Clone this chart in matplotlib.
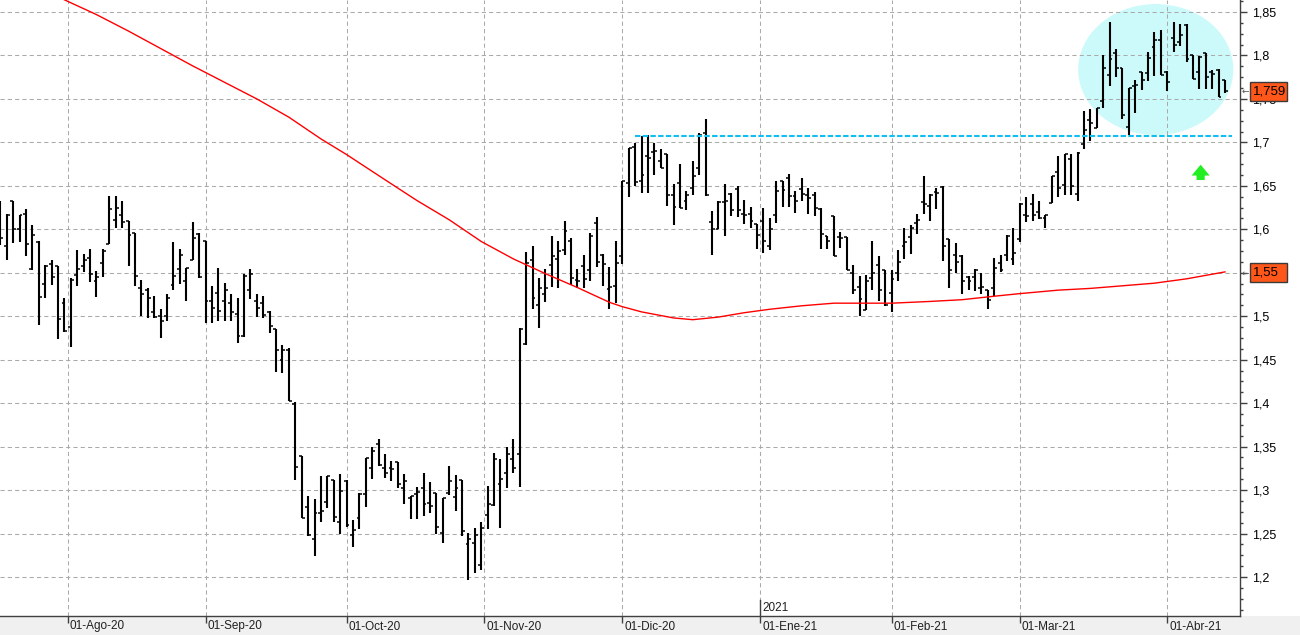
import numpy as np
import pandas as pd
import matplotlib
matplotlib.use('Agg')
import matplotlib.pyplot as plt
from matplotlib.patches import Ellipse, Rectangle
from matplotlib.ticker import MultipleLocator, FuncFormatter
import matplotlib.transforms as mtransforms

# barras diarias OHLC
aperturas = [1.620, 1.581, 1.633, 1.600, 1.618, 1.554, 1.585, 1.537, 1.560, 1.558,
             1.515, 1.488, 1.547, 1.558, 1.567, 1.541, 1.561, 1.583, 1.611, 1.616,
             1.609, 1.596, 1.533, 1.530, 1.505, 1.500, 1.500, 1.536, 1.554, 1.541,
             1.565, 1.595, 1.586, 1.517, 1.527, 1.517, 1.515, 1.502, 1.477, 1.530,
             1.517, 1.515, 1.505, 1.485, 1.450, 1.461, 1.399, 1.339, 1.280, 1.244,
             1.274, 1.286, 1.311, 1.263, 1.310, 1.248, 1.268, 1.295, 1.325, 1.353,
             1.325, 1.325, 1.332, 1.302, 1.291, 1.295, 1.302, 1.285, 1.297, 1.251,
             1.297, 1.292, 1.311, 1.238, 1.239, 1.214, 1.271, 1.283, 1.307, 1.320,
             1.336, 1.341, 1.468, 1.565, 1.513, 1.526, 1.559, 1.566, 1.576, 1.587,
             1.542, 1.558, 1.553, 1.607, 1.571, 1.531, 1.535, 1.569, 1.653, 1.695,
             1.656, 1.684, 1.689, 1.679, 1.687, 1.639, 1.653, 1.633, 1.647, 1.670,
             1.711, 1.608, 1.600, 1.631, 1.641, 1.646, 1.618, 1.618, 1.606, 1.609,
             1.581, 1.617, 1.655, 1.659, 1.638, 1.646, 1.640, 1.640, 1.623, 1.592,
             1.615, 1.591, 1.591, 1.550, 1.534, 1.507, 1.544, 1.559, 1.553, 1.527,
             1.550, 1.581, 1.591, 1.607, 1.631, 1.627, 1.643, 1.649, 1.589, 1.571,
             1.569, 1.545, 1.545, 1.532, 1.530, 1.532, 1.561, 1.571, 1.566, 1.589,
             1.617, 1.629, 1.620, 1.613, 1.630, 1.666, 1.651, 1.681, 1.641, 1.698,
             1.726, 1.717, 1.748, 1.778, 1.803, 1.785, 1.718, 1.765, 1.781, 1.780,
             1.810, 1.818, 1.781, 1.820, 1.815, 1.835, 1.801, 1.781, 1.803, 1.781,
             1.783, 1.772]
maximos = [1.633, 1.618, 1.633, 1.616, 1.623, 1.605, 1.586, 1.559, 1.565, 1.558,
           1.521, 1.544, 1.576, 1.572, 1.577, 1.552, 1.577, 1.638, 1.638, 1.633,
           1.610, 1.596, 1.542, 1.533, 1.523, 1.508, 1.526, 1.585, 1.577, 1.556,
           1.608, 1.596, 1.587, 1.535, 1.555, 1.538, 1.526, 1.521, 1.548, 1.554,
           1.525, 1.523, 1.506, 1.485, 1.467, 1.463, 1.401, 1.339, 1.293, 1.290,
           1.316, 1.316, 1.312, 1.319, 1.312, 1.266, 1.297, 1.337, 1.349, 1.359,
           1.342, 1.333, 1.332, 1.318, 1.293, 1.303, 1.320, 1.309, 1.297, 1.291,
           1.328, 1.317, 1.312, 1.251, 1.256, 1.263, 1.305, 1.343, 1.336, 1.350,
           1.359, 1.486, 1.574, 1.581, 1.544, 1.554, 1.592, 1.587, 1.610, 1.590,
           1.554, 1.571, 1.596, 1.614, 1.572, 1.557, 1.586, 1.656, 1.693, 1.699,
           1.707, 1.709, 1.699, 1.692, 1.687, 1.652, 1.675, 1.644, 1.679, 1.711,
           1.727, 1.621, 1.632, 1.652, 1.642, 1.650, 1.634, 1.626, 1.606, 1.624,
           1.613, 1.656, 1.656, 1.664, 1.644, 1.659, 1.647, 1.643, 1.624, 1.592,
           1.615, 1.597, 1.591, 1.559, 1.546, 1.547, 1.587, 1.569, 1.553, 1.553,
           1.576, 1.601, 1.605, 1.618, 1.661, 1.641, 1.647, 1.650, 1.589, 1.584,
           1.570, 1.546, 1.554, 1.550, 1.530, 1.567, 1.571, 1.594, 1.602, 1.630,
           1.637, 1.641, 1.632, 1.617, 1.661, 1.684, 1.687, 1.687, 1.689, 1.736,
           1.738, 1.739, 1.801, 1.839, 1.808, 1.785, 1.763, 1.772, 1.781, 1.804,
           1.827, 1.829, 1.782, 1.839, 1.836, 1.836, 1.801, 1.799, 1.803, 1.783,
           1.784, 1.772]
minimos = [1.582, 1.565, 1.584, 1.585, 1.569, 1.553, 1.490, 1.521, 1.536, 1.474,
           1.482, 1.465, 1.535, 1.551, 1.539, 1.522, 1.545, 1.583, 1.602, 1.602,
           1.558, 1.535, 1.500, 1.498, 1.498, 1.475, 1.494, 1.530, 1.537, 1.518,
           1.565, 1.544, 1.492, 1.492, 1.494, 1.494, 1.494, 1.469, 1.476, 1.520,
           1.499, 1.498, 1.481, 1.436, 1.435, 1.402, 1.311, 1.268, 1.247, 1.224,
           1.263, 1.279, 1.263, 1.249, 1.258, 1.235, 1.255, 1.281, 1.313, 1.328,
           1.314, 1.310, 1.302, 1.284, 1.267, 1.267, 1.270, 1.274, 1.249, 1.239,
           1.294, 1.276, 1.247, 1.197, 1.205, 1.208, 1.255, 1.282, 1.256, 1.302,
           1.320, 1.304, 1.467, 1.508, 1.486, 1.516, 1.534, 1.532, 1.571, 1.536,
           1.532, 1.532, 1.540, 1.557, 1.535, 1.508, 1.515, 1.560, 1.637, 1.650,
           1.642, 1.642, 1.663, 1.670, 1.627, 1.605, 1.624, 1.622, 1.639, 1.663,
           1.638, 1.571, 1.600, 1.592, 1.615, 1.614, 1.606, 1.602, 1.577, 1.573,
           1.576, 1.607, 1.626, 1.626, 1.619, 1.632, 1.618, 1.615, 1.577, 1.577,
           1.569, 1.578, 1.553, 1.525, 1.500, 1.507, 1.530, 1.518, 1.512, 1.505,
           1.541, 1.566, 1.572, 1.595, 1.618, 1.609, 1.623, 1.563, 1.533, 1.550,
           1.525, 1.530, 1.529, 1.525, 1.508, 1.523, 1.551, 1.563, 1.559, 1.585,
           1.608, 1.609, 1.612, 1.601, 1.630, 1.637, 1.640, 1.639, 1.633, 1.692,
           1.702, 1.717, 1.739, 1.765, 1.775, 1.727, 1.708, 1.734, 1.760, 1.771,
           1.776, 1.778, 1.759, 1.804, 1.811, 1.793, 1.773, 1.761, 1.761, 1.761,
           1.752, 1.757]
cierres = [1.590, 1.616, 1.600, 1.616, 1.583, 1.593, 1.522, 1.558, 1.545, 1.497,
           1.483, 1.542, 1.554, 1.565, 1.549, 1.545, 1.575, 1.623, 1.624, 1.608,
           1.593, 1.546, 1.525, 1.521, 1.499, 1.495, 1.521, 1.546, 1.570, 1.556,
           1.590, 1.545, 1.517, 1.510, 1.506, 1.530, 1.505, 1.477, 1.546, 1.548,
           1.510, 1.501, 1.489, 1.461, 1.461, 1.403, 1.327, 1.268, 1.248, 1.274,
           1.276, 1.316, 1.269, 1.299, 1.260, 1.254, 1.296, 1.337, 1.345, 1.329,
           1.320, 1.324, 1.307, 1.310, 1.293, 1.298, 1.284, 1.282, 1.258, 1.291,
           1.310, 1.302, 1.253, 1.244, 1.248, 1.256, 1.284, 1.336, 1.313, 1.341,
           1.325, 1.485, 1.561, 1.521, 1.533, 1.533, 1.569, 1.575, 1.598, 1.544,
           1.540, 1.543, 1.592, 1.562, 1.560, 1.534, 1.561, 1.655, 1.693, 1.654,
           1.663, 1.682, 1.690, 1.670, 1.639, 1.626, 1.624, 1.640, 1.661, 1.709,
           1.639, 1.600, 1.631, 1.633, 1.622, 1.622, 1.616, 1.609, 1.594, 1.586,
           1.600, 1.644, 1.645, 1.638, 1.632, 1.641, 1.636, 1.624, 1.595, 1.586,
           1.569, 1.590, 1.553, 1.530, 1.520, 1.540, 1.550, 1.530, 1.513, 1.543,
           1.562, 1.585, 1.601, 1.611, 1.629, 1.640, 1.642, 1.581, 1.553, 1.562,
           1.541, 1.541, 1.553, 1.534, 1.519, 1.555, 1.553, 1.592, 1.573, 1.629,
           1.615, 1.617, 1.613, 1.616, 1.661, 1.648, 1.687, 1.650, 1.688, 1.714,
           1.722, 1.739, 1.785, 1.796, 1.785, 1.732, 1.763, 1.766, 1.772, 1.797,
           1.818, 1.778, 1.769, 1.812, 1.824, 1.796, 1.773, 1.798, 1.775, 1.779,
           1.752, 1.759]

# media movil (roja), leida cada pocas sesiones
mm_idx = [10, 15, 20, 25, 30, 35, 40, 45, 50, 54, 60, 65, 70, 75, 80, 85, 90, 95,
          97, 100, 105, 108, 112, 116, 120, 125, 130, 135, 139, 145, 150, 155, 159,
          165, 170, 175, 180, 185, 191]
mm_val = [1.864, 1.847, 1.828, 1.808, 1.788, 1.769, 1.750, 1.729, 1.704, 1.686,
          1.657, 1.633, 1.611, 1.586, 1.566, 1.549, 1.533, 1.516, 1.511, 1.505,
          1.498, 1.496, 1.499, 1.504, 1.508, 1.512, 1.515, 1.515, 1.515, 1.517,
          1.519, 1.523, 1.526, 1.530, 1.532, 1.535, 1.538, 1.543, 1.551]

soporte = 1.707          # linea cian discontinua
ultimo = 1.759
valor_mm = 1.55

meses = {8: 'Ago', 9: 'Sep', 10: 'Oct', 11: 'Nov', 12: 'Dic', 1: 'Ene', 2: 'Feb', 3: 'Mar', 4: 'Abr'}

fechas = pd.bdate_range('2020-07-17', '2021-04-16')
festivos = pd.to_datetime(['2020-12-25', '2021-01-01', '2021-04-02', '2021-04-05'])
fechas = fechas[~fechas.isin(festivos)]
n = len(aperturas)
x = np.arange(n)

plt.rcParams['font.family'] = ['Liberation Sans', 'DejaVu Sans']

fig = plt.figure(figsize=(13, 6.35), dpi=100)
fig.patch.set_facecolor('white')
fig.patches.append(Rectangle((0, 0), 1, 19 / 635, transform=fig.transFigure,
                             fc='#F0F0F0', ec='none', zorder=-5))
ax = fig.add_axes([0, 19 / 635, 1240 / 1300, 616 / 635])
ax.set_axisbelow(True)

# elipse de fondo
ax.add_patch(Ellipse((180.2, 1.7838), 24.2, 0.1507, fc='#CCFAFA', ec='none', zorder=0.2))

# barras OHLC
ax.vlines(x, minimos, maximos, color='black', lw=1.5, zorder=3)
ax.hlines(aperturas, x - 0.45, x, color='black', lw=1.1, zorder=3)
ax.hlines(cierres, x, x + 0.45, color='black', lw=1.1, zorder=3)

ax.plot(mm_idx, mm_val, color='#FF0000', lw=1.0, zorder=4)
ax.hlines(soporte, 99, 192.1, colors='#12BEF0', lw=1.5, linestyles=(0, (2.6, 1.1)), zorder=4)

ax.annotate('', xy=(187.2, 1.6775), xytext=(187.2, 1.6535),
            arrowprops=dict(arrowstyle='simple,head_length=0.6,head_width=1.0,tail_width=0.45',
                            fc='#22EE22', ec='none', mutation_scale=13), zorder=5)

ax.set_xlim(-0.05, 193.34)
ax.set_ylim(1.1551, 1.8638)

# eje de precios a la derecha
ax.yaxis.tick_right()
ax.yaxis.set_major_locator(MultipleLocator(0.05))
ax.yaxis.set_minor_locator(MultipleLocator(0.0125))
ax.yaxis.set_major_formatter(FuncFormatter(
    lambda v, p: ('%.2f' % v).rstrip('0').rstrip('.').replace('.', ',')))
ax.tick_params(axis='y', which='major', length=5, width=1, color='#404040', pad=4, labelsize=9)
ax.tick_params(axis='y', which='minor', length=2.5, width=1, color='#404040')

# marcas de meses
pos_mes, txt_mes = [], []
for per in pd.period_range('2020-08', '2021-04', freq='M'):
    primero = per.start_time
    k = int(np.searchsorted(fechas, primero))
    p = k if fechas[k] == primero else k - 0.5
    pos_mes.append(p)
    txt_mes.append('01-%s-%s' % (meses[per.month], str(per.year)[2:]))
ax.set_xticks(pos_mes)
ax.set_xticklabels([])
ax.tick_params(axis='x', length=5, width=1, color='#404040', direction='out')
trans = mtransforms.offset_copy(ax.get_xaxis_transform(), fig=fig, x=2, y=0, units='dots')
for p, t in zip(pos_mes, txt_mes):
    ax.text(p, -10.5 / 616, t, transform=trans, ha='left', va='center', fontsize=8.5,
            color='#202020', clip_on=False)
p_ene = pos_mes[5]
ax.plot([p_ene, p_ene], [0, 16 / 616], transform=ax.get_xaxis_transform(),
        color='#404040', lw=1, clip_on=False)
ax.text(p_ene, 8 / 616, '2021', transform=trans, ha='left', va='center', fontsize=8.5,
        color='#202020')

ax.grid(True, which='major', color='#AAAAAA', lw=0.75, ls=(0, (4, 3)))

for s in ['top', 'left']:
    ax.spines[s].set_visible(False)
for s in ['right', 'bottom']:
    ax.spines[s].set_color('#404040')
    ax.spines[s].set_linewidth(1)

# etiquetas de ultimo precio y media
yt = ax.get_yaxis_transform()
for v, txt in [(ultimo, '1,759'), (valor_mm, '1,55')]:
    ax.add_patch(Rectangle((1250 / 1240, v - 0.0109), 37 / 1240, 0.0218, transform=yt,
                           fc='#FF5719', ec='#3A3A3A', lw=1, clip_on=False, zorder=5))
    ax.text(1253 / 1240, v, txt, transform=yt, ha='left', va='center', fontsize=9.5,
            color='black', zorder=6, clip_on=False)
    ax.text(1241.5 / 1240, v, '\u2190', transform=yt, ha='left', va='center', fontsize=6.5,
            color='#555555', family=['DejaVu Sans'], clip_on=False)

fig.savefig('out.png', dpi=100)
